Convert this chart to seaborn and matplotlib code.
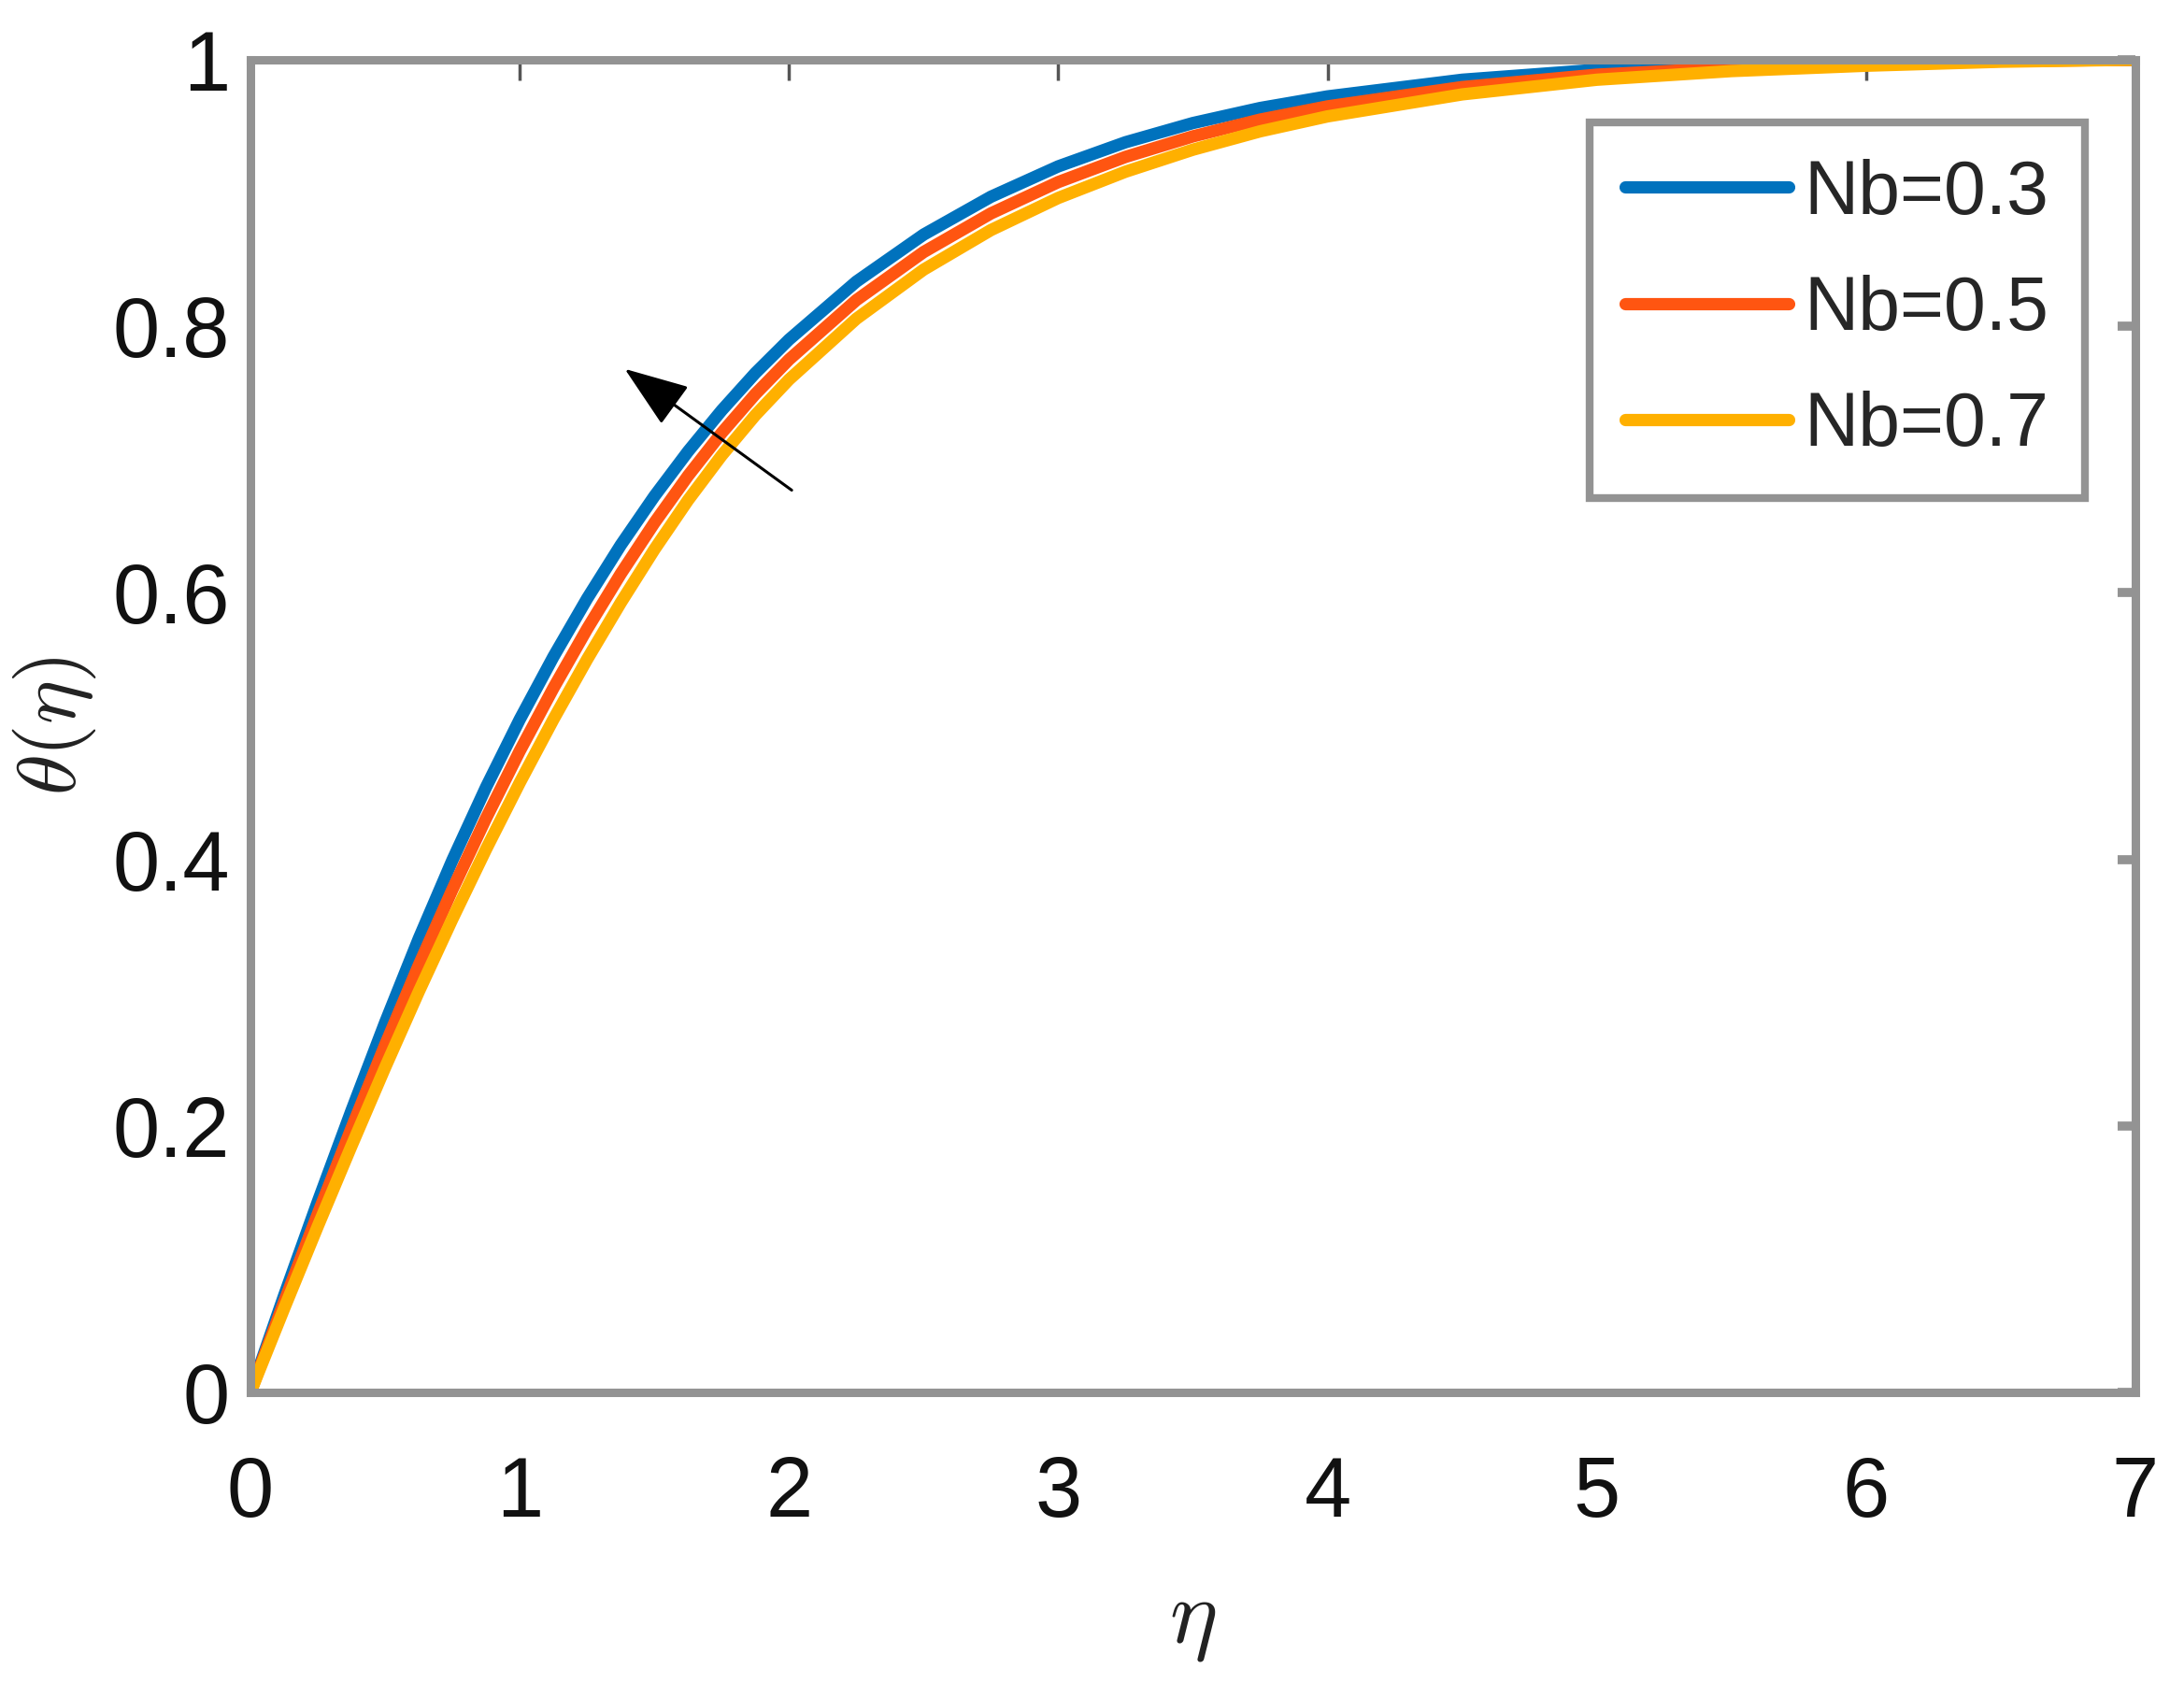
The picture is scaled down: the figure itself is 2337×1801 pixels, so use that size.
import numpy as np
import pandas as pd
import matplotlib
matplotlib.use('Agg')
import matplotlib.pyplot as plt
import seaborn as sns

# values
eta = [0, 0.125, 0.25, 0.375, 0.5, 0.625, 0.75, 0.875, 1.0, 1.125, 1.25, 1.375,
       1.5, 1.625, 1.75, 1.875, 2.0, 2.25, 2.5, 2.75, 3.0, 3.25, 3.5, 3.75, 4.0,
       4.5, 5.0, 5.5, 6.0, 6.5, 7.0]
theta_nb03 = [0, 0.0727, 0.1431, 0.2114, 0.2775, 0.3405, 0.3994, 0.4542, 0.5050,
              0.5520, 0.5956, 0.6358, 0.6725, 0.7061, 0.7369, 0.7649, 0.7900,
              0.8335, 0.8688, 0.8972, 0.9200, 0.9381, 0.9525, 0.9638, 0.9725,
              0.9850, 0.9925, 0.9963, 0.9985, 0.9995, 1.0]
theta_nb05 = [0, 0.0679, 0.1339, 0.1982, 0.2607, 0.3206, 0.3774, 0.4309, 0.4813,
              0.5285, 0.5728, 0.6142, 0.6525, 0.6878, 0.7200, 0.7491, 0.7750,
              0.8196, 0.8557, 0.8847, 0.9082, 0.9271, 0.9425, 0.9551, 0.9650,
              0.9795, 0.9888, 0.9939, 0.9970, 0.9990, 1.0]
theta_nb07 = [0, 0.0630, 0.1247, 0.1849, 0.2438, 0.3007, 0.3553, 0.4076, 0.4575,
              0.5050, 0.5500, 0.5925, 0.6325, 0.6695, 0.7031, 0.7333, 0.7600,
              0.8056, 0.8425, 0.8722, 0.8963, 0.9160, 0.9325, 0.9463, 0.9575,
              0.9740, 0.9850, 0.9915, 0.9955, 0.9985, 1.0]
labels = ['Nb=0.3', 'Nb=0.5', 'Nb=0.7']
colors = ['#0072BD', '#FF5511', '#FFB000']
xticks = [0, 1, 2, 3, 4, 5, 6, 7]
yticks = [0, 0.2, 0.4, 0.6, 0.8, 1]
ytick_labels = ['0', '0.2', '0.4', '0.6', '0.8', '1']

df = pd.concat([
    pd.DataFrame({'eta': eta, 'theta': vals, 'Nb': lab})
    for vals, lab in zip([theta_nb03, theta_nb05, theta_nb07], labels)
])

sns.set_style('white')
plt.rcParams['font.family'] = ['Liberation Sans', 'DejaVu Sans']
plt.rcParams['mathtext.fontset'] = 'cm'

fig = plt.figure(figsize=(23.37, 18.01), dpi=100)
ax = fig.add_axes([0.1147, 0.1727, 0.9777 - 0.1147, 0.9645 - 0.1727])

sns.lineplot(data=df, x='eta', y='theta', hue='Nb', palette=colors,
             linewidth=9.5, ax=ax)

ax.set_xlim(0, 7)
ax.set_ylim(0, 1)
ax.set_xticks(xticks)
ax.set_xticklabels([str(t) for t in xticks])
ax.set_yticks(yticks)
ax.set_yticklabels(ytick_labels)

gray = '#939393'
for sp in ax.spines.values():
    sp.set_color(gray)
    sp.set_linewidth(6.5)
    sp.set_visible(True)

ax.tick_params(axis='both', direction='in', top=True, right=True,
               labelsize=65, labelcolor='#111111')
ax.tick_params(axis='x', length=16, width=2.5, color='#555555', pad=48)
ax.tick_params(axis='y', length=14, width=7, color=gray, pad=16)

ax.set_xlabel(r'$\eta$', fontsize=70, color='#222222')
ax.set_ylabel(r'$\theta(\eta)$', fontsize=64, color='#222222')
ax.xaxis.set_label_coords(0.5, -0.14)
ax.yaxis.set_label_coords(-0.081, 0.5)

# arrow showing the trend
ax.annotate('', xy=(1.39, 0.768), xytext=(2.01, 0.677),
            arrowprops=dict(arrowstyle='-|>,head_length=0.6,head_width=0.22',
                            color='black', lw=2.2, mutation_scale=72,
                            shrinkA=0, shrinkB=0))

handles, labs = ax.get_legend_handles_labels()
leg = ax.legend(handles, labs, loc='upper right', bbox_to_anchor=(0.9732, 0.953),
                borderaxespad=0, fontsize=58, handlelength=2.17,
                handletextpad=0.2, labelspacing=0.6, borderpad=0.48,
                frameon=True, fancybox=False, framealpha=1, edgecolor=gray)
leg.get_frame().set_linewidth(6)
for h in leg.legend_handles:
    h.set_linewidth(9.5)

fig.savefig('out.png', dpi=100, facecolor='white')
